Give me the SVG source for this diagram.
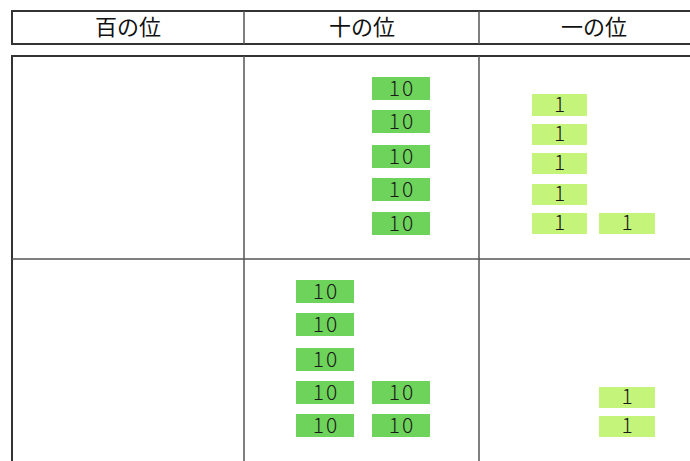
<svg xmlns="http://www.w3.org/2000/svg" width="690" height="461" viewBox="0 0 690 461">
<style>
.ln{stroke:#333;stroke-width:2;fill:none}
.ln2{stroke:#555;stroke-width:1.5;fill:none}
.hd{font-family:"Noto Sans CJK JP","Noto Sans CJK SC",sans-serif;font-size:22px;fill:#111;text-anchor:middle}
.t{fill:#6ed35a}
.o{fill:#c4f57a}
.lb{font-family:"Noto Sans CJK JP","Noto Sans",sans-serif;font-weight:300;font-size:21px;letter-spacing:2px;fill:#1a1a1a;text-anchor:middle}
</style>
<rect width="690" height="461" fill="#fff"/>
<g id="header">
<rect x="12" y="11" width="690" height="33" class="ln"/>
<line x1="244" y1="11" x2="244" y2="44" class="ln2"/>
<line x1="479" y1="11" x2="479" y2="44" class="ln2"/>
<text x="128" y="35" class="hd">百の位</text>
<text x="362" y="35" class="hd">十の位</text>
<text x="594" y="35" class="hd">一の位</text>
</g>
<g id="grid">
<rect x="12" y="56" width="690" height="420" class="ln"/>
<line x1="12" y1="259" x2="690" y2="259" class="ln2"/>
<line x1="244" y1="56" x2="244" y2="461" class="ln2"/>
<line x1="479" y1="56" x2="479" y2="461" class="ln2"/>
</g>
<g id="tens-top">
<rect class="t" x="372" y="77" width="58" height="23"/><text class="lb" x="402" y="96">10</text>
<rect class="t" x="372" y="110" width="58" height="23"/><text class="lb" x="402" y="129">10</text>
<rect class="t" x="372" y="145" width="58" height="23"/><text class="lb" x="402" y="164">10</text>
<rect class="t" x="372" y="178" width="58" height="23"/><text class="lb" x="402" y="197">10</text>
<rect class="t" x="372" y="212" width="58" height="23"/><text class="lb" x="402" y="231">10</text>
</g>
<g id="ones-top">
<rect class="o" x="532" y="94" width="55" height="22"/><text class="lb" x="560.5" y="112">1</text>
<rect class="o" x="532" y="124" width="55" height="21"/><text class="lb" x="560.5" y="141">1</text>
<rect class="o" x="532" y="153" width="55" height="21"/><text class="lb" x="560.5" y="170">1</text>
<rect class="o" x="532" y="184" width="55" height="21"/><text class="lb" x="560.5" y="201">1</text>
<rect class="o" x="532" y="213" width="55" height="21"/><text class="lb" x="560.5" y="230">1</text>
<rect class="o" x="599" y="213" width="56" height="21"/><text class="lb" x="628" y="230">1</text>
</g>
<g id="tens-bottom">
<rect class="t" x="296" y="280" width="58" height="23"/><text class="lb" x="326" y="299">10</text>
<rect class="t" x="296" y="313" width="58" height="23"/><text class="lb" x="326" y="332">10</text>
<rect class="t" x="296" y="348" width="58" height="23"/><text class="lb" x="326" y="367">10</text>
<rect class="t" x="296" y="381" width="58" height="23"/><text class="lb" x="326" y="400">10</text>
<rect class="t" x="296" y="414" width="58" height="23"/><text class="lb" x="326" y="433">10</text>
<rect class="t" x="372" y="381" width="58" height="23"/><text class="lb" x="402" y="400">10</text>
<rect class="t" x="372" y="414" width="58" height="23"/><text class="lb" x="402" y="433">10</text>
</g>
<g id="ones-bottom">
<rect class="o" x="599" y="387" width="56" height="21"/><text class="lb" x="628" y="404">1</text>
<rect class="o" x="599" y="416" width="56" height="21"/><text class="lb" x="628" y="433">1</text>
</g>
</svg>
